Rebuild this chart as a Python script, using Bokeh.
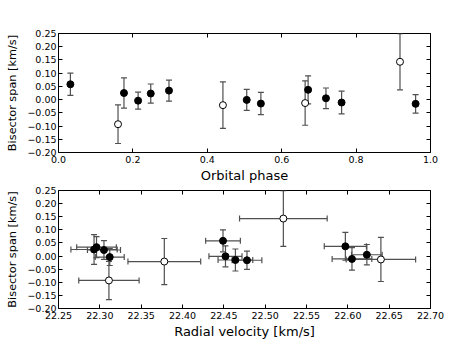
import numpy as np
from bokeh.plotting import figure
from bokeh.layouts import column
from bokeh.models import (ColumnDataSource, Whisker, TeeHead, FixedTicker,
                          CustomJSTickFormatter, LinearAxis, Range1d, CustomLabelingPolicy)
from bokeh.embed import file_html
from bokeh.resources import INLINE

# ---- data ----
# filled points
phase_f = [0.032, 0.176, 0.214, 0.248, 0.297, 0.506, 0.544, 0.671, 0.719, 0.761, 0.960]
rv_f = [22.449, 22.293, 22.312, 22.305, 22.296, 22.452, 22.464, 22.597, 22.623, 22.605, 22.478]
bis_f = [0.058, 0.025, -0.004, 0.023, 0.034, -0.001, -0.015, 0.037, 0.005, -0.011, -0.016]
bis_err_f = [0.042, 0.057, 0.032, 0.036, 0.040, 0.040, 0.042, 0.053, 0.039, 0.043, 0.035]
rv_err_f = [0.021, 0.028, 0.0175, 0.020, 0.024, 0.020, 0.021, 0.0255, 0.0185, 0.024, 0.018]
# open points
phase_o = [0.160, 0.442, 0.663, 0.918]
rv_o = [22.311, 22.378, 22.640, 22.522]
bis_o = [-0.093, -0.021, -0.013, 0.143]
bis_err_o = [0.073, 0.088, 0.084, 0.106]
rv_err_o = [0.0365, 0.044, 0.042, 0.053]

phase_ticks = [0.0, 0.2, 0.4, 0.6, 0.8, 1.0]
rv_ticks = [22.25, 22.30, 22.35, 22.40, 22.45, 22.50, 22.55, 22.60, 22.65, 22.70]
bis_ticks = [-0.20, -0.15, -0.10, -0.05, 0.00, 0.05, 0.10, 0.15, 0.20, 0.25]

FONT = "DejaVu Sans"
ECOL = "#505050"


def make_src(x, y, xe, ye):
    x = np.array(x); y = np.array(y); xe = np.array(xe); ye = np.array(ye)
    return ColumnDataSource(dict(x=x, y=y, xlo=x - xe, xhi=x + xe,
                                 ylo=y - ye, yhi=y + ye))


def fmt(d):
    return CustomJSTickFormatter(code="return tick.toFixed(%d).replace('-', '\\u2212');" % d)


def no_labels():
    return CustomLabelingPolicy(code="for (const i of indices) { indices.unset(i) } return indices;")


def style(p, xticks, xdec, xlabel):
    p.outline_line_color = "black"
    p.outline_line_width = 1
    p.xgrid.visible = False
    p.ygrid.visible = False
    for ax in p.xaxis + p.yaxis:
        ax.axis_line_color = None
        ax.major_tick_in = 4
        ax.major_tick_out = 0
        ax.minor_tick_line_color = None
        ax.major_tick_line_color = "black"
        ax.major_label_text_font = FONT
        ax.major_label_text_font_size = "9.5px"
        ax.major_label_text_color = "black"
        ax.axis_label_text_font = FONT
        ax.axis_label_text_font_style = "normal"
        ax.axis_label_text_color = "black"
    p.xaxis.axis_label_text_font_size = "13px"
    p.yaxis.axis_label_text_font_size = "11.3px"
    p.xaxis.ticker = FixedTicker(ticks=xticks)
    p.yaxis.ticker = FixedTicker(ticks=bis_ticks)
    p.xaxis.formatter = fmt(xdec)
    p.yaxis.formatter = fmt(2)
    p.xaxis.major_label_standoff = 3
    p.yaxis.major_label_standoff = 2
    p.xaxis.axis_label_standoff = 2
    p.yaxis.axis_label_standoff = 5
    p.xaxis.axis_label = xlabel
    p.yaxis.axis_label = "Bisector span [km/s]"
    # mirrored ticks on top and right, without labels
    top = LinearAxis(ticker=FixedTicker(ticks=xticks), major_label_policy=no_labels(),
                     major_label_text_font_size="1px",
                     axis_line_color=None, major_tick_in=4, major_tick_out=0,
                     minor_tick_line_color=None, major_label_standoff=0)
    right = LinearAxis(ticker=FixedTicker(ticks=bis_ticks), major_label_policy=no_labels(),
                       major_label_text_font_size="1px",
                       axis_line_color=None, major_tick_in=4, major_tick_out=0,
                       minor_tick_line_color=None, major_label_standoff=0)
    p.add_layout(top, "above")
    p.add_layout(right, "right")


def add_errors(p, src, horiz):
    vw = Whisker(source=src, base="x", upper="yhi", lower="ylo", dimension="height",
                 line_color=ECOL, line_width=1.2, level="underlay",
                 upper_head=TeeHead(size=6, line_color=ECOL, line_width=1.2),
                 lower_head=TeeHead(size=6, line_color=ECOL, line_width=1.2))
    p.add_layout(vw)
    if horiz:
        hw = Whisker(source=src, base="y", upper="xhi", lower="xlo", dimension="width",
                     line_color=ECOL, line_width=1.2, level="underlay",
                     upper_head=TeeHead(size=6, line_color=ECOL, line_width=1.2),
                     lower_head=TeeHead(size=6, line_color=ECOL, line_width=1.2))
        p.add_layout(hw)


# ---- top panel: phase ----
p1 = figure(width=446, height=185, x_range=Range1d(0, 1), title=None,
            y_range=Range1d(-0.20, 0.25), output_backend="svg", toolbar_location=None,
            min_border_left=58, min_border_right=16, min_border_top=33, min_border_bottom=30,
            background_fill_color="white", border_fill_color="white")
style(p1, phase_ticks, 1, "Orbital phase")
sf1 = make_src(phase_f, bis_f, [0] * len(phase_f), bis_err_f)
so1 = make_src(phase_o, bis_o, [0] * len(phase_o), bis_err_o)
add_errors(p1, sf1, False)
add_errors(p1, so1, False)
p1.scatter("x", "y", source=sf1, size=7, fill_color="black", line_color="black")
p1.scatter("x", "y", source=so1, size=7, fill_color="white", line_color="black")

# ---- bottom panel: radial velocity ----
p2 = figure(width=446, height=156, x_range=Range1d(22.25, 22.70), title=None,
            y_range=Range1d(-0.20, 0.25), output_backend="svg", toolbar_location=None,
            min_border_left=58, min_border_right=16, min_border_top=5, min_border_bottom=29,
            background_fill_color="white", border_fill_color="white")
style(p2, rv_ticks, 2, "Radial velocity [km/s]")
sf2 = make_src(rv_f, bis_f, rv_err_f, bis_err_f)
so2 = make_src(rv_o, bis_o, rv_err_o, bis_err_o)
add_errors(p2, sf2, True)
add_errors(p2, so2, True)
p2.scatter("x", "y", source=sf2, size=7, fill_color="black", line_color="black")
p2.scatter("x", "y", source=so2, size=7, fill_color="white", line_color="black")

layout = column(p1, p2, spacing=0)
open("out.html", "w").write(file_html(layout, INLINE))
